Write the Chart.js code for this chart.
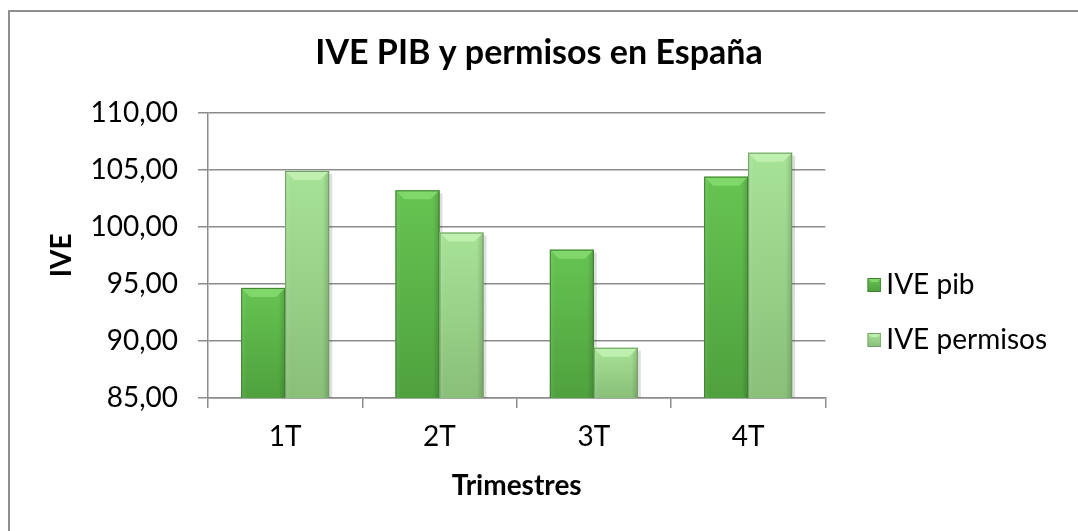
<!DOCTYPE html>
<html>
<head>
<meta charset="utf-8">
<script src="https://cdn.jsdelivr.net/npm/chart.js@4/dist/chart.umd.min.js"></script>
<style>
    body { margin: 0; background: #fff; }
    #wrap { position: relative; width: 1078px; height: 531px; overflow: hidden; }
    #frame { position: absolute; left: 8px; top: 10px; width: 2000px; height: 2000px;
             border-left: 2px solid #8f8f8f; border-top: 2px solid #8f8f8f; }
    canvas { position: absolute; left: 0; top: 0; }
</style>
</head>
<body>
<div id="wrap">
    <div id="frame"></div>
    <canvas id="ivechart" width="1078" height="531"></canvas>
</div>
<script>
// Data
const categories = ['1T', '2T', '3T', '4T'];
const ivePib = [94.65, 103.2, 98.0, 104.4];
const ivePermisos = [104.9, 99.5, 89.4, 106.5];
const yTicks = [85, 90, 95, 100, 105, 110];

const FONT = 'Lato, "Noto Sans", sans-serif';
const GRID = '#8c8c8c';
// side padding: keeps the plot ending at x=825 with the legend to its right
const padR = 21;

// Bar colours
const palettes = [
    { mid: '#5db649', top: '#66c452', bottom: '#4fa13d', bevel: '#80d86b', line: '#3f7f31' },
    { mid: '#9bd78a', top: '#a7e397', bottom: '#89bf79', bevel: '#bff0b0', line: '#6f9f62' }
];

// Little shaded squares for the legend (square sits at the right end of the icon)
function legendIcon(pal) {
    const c = document.createElement('canvas');
    c.width = 38; c.height = 14;
    const g = c.getContext('2d');
    const grad = g.createLinearGradient(0, 0, 0, 14);
    grad.addColorStop(0, pal.top);
    grad.addColorStop(1, pal.bottom);
    g.fillStyle = grad;
    g.fillRect(24, 0, 14, 14);
    g.fillStyle = pal.bevel;
    g.beginPath();
    g.moveTo(24, 0); g.lineTo(38, 0); g.lineTo(34, 4); g.lineTo(28, 4); g.closePath();
    g.fill();
    g.strokeStyle = pal.line;
    g.strokeRect(24.5, 0.5, 13, 13);
    return c;
}
const legendIcons = palettes.map(legendIcon);

function eachBar(chart, fn) {
    chart.data.datasets.forEach((ds, di) => {
        chart.getDatasetMeta(di).data.forEach(bar => fn(bar, palettes[di]));
    });
}

function clipArea(chart) {
    const a = chart.chartArea;
    chart.ctx.beginPath();
    chart.ctx.rect(a.left, a.top, a.right - a.left + 6, a.bottom - a.top);
    chart.ctx.clip();
}

// Shaded "3D" look for the bars, painted over the library's own bar elements
const bevelBars = {
    id: 'bevelBars',
    beforeDatasetsDraw(chart) {
        const ctx = chart.ctx;
        ctx.save();
        clipArea(chart);
        ctx.fillStyle = 'rgba(0,0,0,0.13)';
        eachBar(chart, bar => {
            const l = bar.x - bar.width / 2;
            ctx.fillRect(l + 3, bar.y + 3, bar.width, bar.base - bar.y - 3);
        });
        ctx.restore();
    },
    afterDatasetsDraw(chart) {
        const ctx = chart.ctx;
        ctx.save();
        clipArea(chart);
        const bottom = chart.chartArea.bottom;
        eachBar(chart, (bar, pal) => {
            const w = bar.width, l = bar.x - w / 2, r = l + w, t = bar.y, b = Math.min(bar.base, bottom);
            const bev = 9;
            let g = ctx.createLinearGradient(0, t, 0, b);
            g.addColorStop(0, pal.top);
            g.addColorStop(1, pal.bottom);
            ctx.fillStyle = g;
            ctx.fillRect(l, t, w, b - t);

            let h = ctx.createLinearGradient(l, 0, r, 0);
            h.addColorStop(0, 'rgba(255,255,255,0.10)');
            h.addColorStop(0.12, 'rgba(255,255,255,0)');
            h.addColorStop(0.85, 'rgba(0,0,0,0)');
            h.addColorStop(1, 'rgba(0,0,0,0.16)');
            ctx.fillStyle = h;
            ctx.fillRect(l, t, w, b - t);

            ctx.beginPath();
            ctx.moveTo(l, t);
            ctx.lineTo(r, t);
            ctx.lineTo(r - bev, t + bev);
            ctx.lineTo(l + bev, t + bev);
            ctx.closePath();
            ctx.fillStyle = pal.bevel;
            ctx.fill();

            ctx.strokeStyle = pal.line;
            ctx.lineWidth = 1;
            ctx.strokeRect(l + 0.5, t + 0.5, w - 1, b - t);
        });
        ctx.restore();
    }
};

const ctx = document.getElementById('ivechart').getContext('2d');
const chart = new Chart(ctx, {
    type: 'bar',
    data: {
        labels: categories,
        datasets: [
            { label: 'IVE pib', data: ivePib, backgroundColor: palettes[0].mid,
              borderColor: palettes[0].line, borderWidth: 1 },
            { label: 'IVE permisos', data: ivePermisos, backgroundColor: palettes[1].mid,
              borderColor: palettes[1].line, borderWidth: 1 }
        ]
    },
    options: {
        responsive: false,
        animation: false,
        layout: { padding: { left: padR, right: padR, top: 0, bottom: 0 } },
        datasets: { bar: { categoryPercentage: 0.57, barPercentage: 1.0 } },
        scales: {
            x: {
                afterFit: s => { s.height = 133; },
                grid: { offset: true, drawOnChartArea: false, color: GRID, lineWidth: 1.5, tickLength: 10 },
                border: { color: GRID, width: 1.5 },
                ticks: { color: '#000', padding: 12, font: { family: FONT, size: 28 } },
                title: { display: true, text: 'Trimestres', color: '#000',
                         padding: { top: 0, bottom: 28 },
                         font: { family: FONT, size: 28, weight: 'bold' } }
            },
            y: {
                min: 85, max: 110,
                afterFit: s => { s.width = 208 - padR; },
                afterBuildTicks: s => { s.ticks = yTicks.map(v => ({ value: v })); },
                grid: { color: GRID, lineWidth: 1.5, tickLength: 10 },
                border: { color: GRID, width: 1.5 },
                ticks: {
                    color: '#000', padding: 20,
                    font: { family: FONT, size: 28 },
                    callback: v => v.toFixed(2).replace('.', ',')
                },
                title: { display: true, text: 'IVE', color: '#000',
                         padding: { top: Math.max(0, 45 - padR), bottom: 0 },
                         font: { family: FONT, size: 28, weight: 'bold' } }
            }
        },
        plugins: {
            title: {
                display: true,
                text: 'IVE PIB y permisos en España',
                color: '#000',
                padding: { top: 33, bottom: 39 },
                font: { family: FONT, size: 34, weight: 'bold' }
            },
            legend: {
                position: 'right',
                align: 'start',
                maxWidth: 320,
                title: { display: true, text: ' ', font: { size: 10 }, padding: { top: 232, bottom: 0 } },
                labels: {
                    color: '#000',
                    usePointStyle: true,
                    pointStyleWidth: 20,
                    boxHeight: 14,
                    padding: 27,
                    font: { family: FONT, size: 28 },
                    generateLabels: c => Chart.defaults.plugins.legend.labels.generateLabels(c)
                        .map(item => Object.assign(item, { pointStyle: legendIcons[item.datasetIndex] }))
                }
            },
            tooltip: { enabled: false }
        }
    },
    plugins: [bevelBars]
});
</script>
</body>
</html>
